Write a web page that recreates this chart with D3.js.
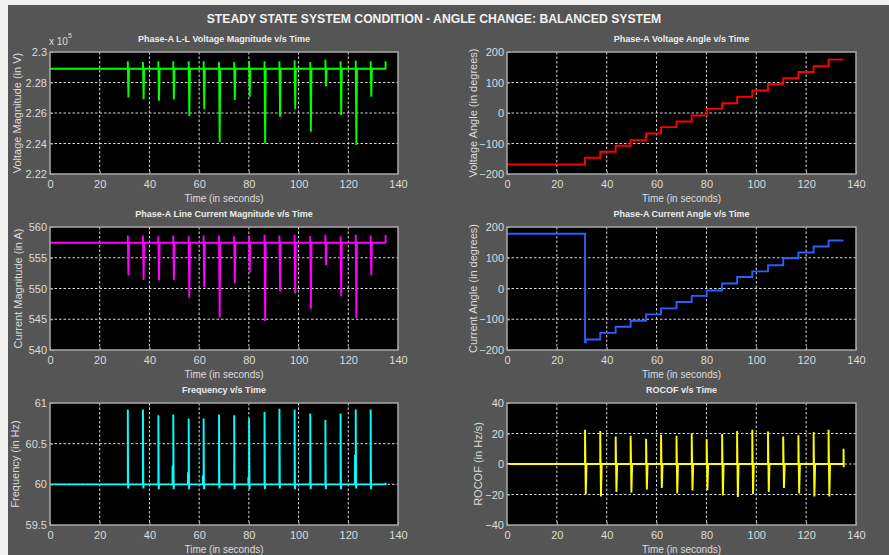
<!DOCTYPE html>
<html>
<head>
<meta charset="utf-8">
<script src="https://cdn.jsdelivr.net/npm/d3@7"></script>
<style>
  html, body { margin: 0; padding: 0; background: #f0f0f0; }
  svg { display: block; }
</style>
</head>
<body>
<svg id="chart" width="889" height="555"></svg>
<script>
// ---- data ----
// times (s) where the phase angle step is applied
const eventTimes = [31.3, 37.4, 43.6, 49.6, 55.8, 61.8, 68.0, 74.1, 80.1, 86.3, 92.3, 98.4, 104.7, 110.8, 116.9, 123.0, 129.0];
const endTime = 135;
const timeTicks = [0, 20, 40, 60, 80, 100, 120, 140];

// Phase-A L-L voltage magnitude (x 10^5 V)
const vmBase = 2.289;
const vmPeak = [2.294, 2.2935, 2.294, 2.294, 2.294, 2.294, 2.2935, 2.2935, 2.294, 2.294, 2.294, 2.2945, 2.2935, 2.295, 2.294, 2.2945, 2.294];
const vmDip = [2.2701, 2.269, 2.268, 2.2688, 2.2579, 2.2625, 2.2409, 2.2686, 2.2706, 2.2398, 2.2575, 2.2625, 2.2477, 2.2775, 2.2586, 2.239, 2.2706];
const vmEnd = 2.294;
const vmTicks = [2.22, 2.24, 2.26, 2.28, 2.3];

// Phase-A voltage angle (deg), level after each step
const vaLevels = [-168.4, -146.6, -127, -107.4, -88.8, -67, -46.3, -27.8, -8.2, 13.6, 32.2, 52.9, 73.6, 94.3, 114, 134.6, 153.2, 175];
const angleTicks = [-200, -100, 0, 100, 200];

// Phase-A line current magnitude (A)
const cmBase = 557.45;
const cmPeak = [558.6, 558.6, 558.5, 558.6, 558.5, 558.6, 558.6, 558.5, 558.6, 558.75, 558.6, 558.75, 558.5, 558.75, 558.5, 558.75, 558.6];
const cmDip = [552.1, 551.4, 551.3, 551.4, 548.5, 550.2, 545.3, 550.8, 552.6, 544.7, 549.5, 549.2, 546.7, 553.8, 548.7, 545.2, 552.1];
const cmEnd = 558.7;
const cmTicks = [540, 545, 550, 555, 560];

// Phase-A current angle (deg)
const caLevels = [178, -166, -144.3, -124.6, -104.9, -84.2, -64.5, -43.7, -24, -6.6, 16.4, 37.2, 55.7, 75.4, 98.4, 116.9, 136.6, 156.3];
const caFirstDip = -175;

// Frequency (Hz)
const fBase = 60;
const fPeak = [60.92, 60.92, 60.85, 60.86, 60.81, 60.81, 60.86, 60.85, 60.81, 60.89, 60.93, 60.92, 60.87, 60.79, 60.87, 60.92, 60.92];
const fDip = [59.95, 59.95, 59.94, 59.94, 59.94, 59.94, 59.95, 59.94, 59.94, 59.94, 59.95, 59.94, 59.94, 59.94, 59.94, 59.95, 59.94];
const fSecond = [null, null, null, 60.23, 60.15, 60.11, null, null, 60.09, null, null, null, null, null, null, 60.36, null];
const fEnd = 60.02;
const fTicks = [59.5, 60, 60.5, 61];

// ROCOF (Hz/s)
const rPeak = [22.4, 21.7, 18, 18.5, 16.5, 19.1, 18.5, 20.2, 16.3, 19.6, 21.7, 22.4, 21.3, 18, 18.9, 20.9, 22.4];
const rDip = [-20, -21.3, -18.3, -18.9, -16.7, -15.7, -19.3, -17.4, -17.2, -20.6, -21.7, -19.6, -18.3, -15.7, -19.3, -21.3, -21.3];
const rEnd = [10, -2.2];
const rTicks = [-40, -20, 0, 20, 40];

// ---- series builders ----
function spikeSeries(base, peaks, dips, dt) {
  const pts = [[0, base]];
  eventTimes.forEach((t, i) => {
    pts.push([t, base], [t, peaks[i]], [t + dt, dips[i]], [t + 2 * dt, base]);
  });
  pts.push([endTime, base]);
  return pts;
}

// points for d3.curveStepAfter
function stepSeries(levels) {
  const pts = [[0, levels[0]]];
  eventTimes.forEach((t, i) => pts.push([t, levels[i + 1]]));
  pts.push([endTime, levels[levels.length - 1]]);
  return pts;
}

const vmSeries = spikeSeries(vmBase, vmPeak, vmDip, 0.25).concat([[endTime, vmEnd]]);
const cmSeries = spikeSeries(cmBase, cmPeak, cmDip, 0.25).concat([[endTime, cmEnd]]);
const vaSeries = stepSeries(vaLevels);
const caSeries = stepSeries(caLevels);
// first current-angle drop overshoots a little before settling
caSeries.splice(1, 1, [eventTimes[0], caFirstDip], [eventTimes[0] + 0.3, caLevels[1]]);

const fSeries = [[0, fBase]];
eventTimes.forEach((t, i) => {
  if (fSecond[i] !== null) fSeries.push([t - 0.3, fBase], [t - 0.3, fSecond[i]], [t - 0.25, fBase]);
  fSeries.push([t, fBase], [t, fPeak[i]], [t + 0.15, fDip[i]], [t + 0.3, fBase]);
});
fSeries.push([endTime, fBase], [endTime, fEnd]);

const rSeries = spikeSeries(0, rPeak, rDip, 0.3).concat([[endTime, rEnd[0]], [endTime + 0.1, rEnd[1]]]);

// ---- layout ----
const W = 889, H = 555;
const svg = d3.select('#chart');
const txt = '#dcdcdc';
const tickFont = '"Liberation Sans Narrow", "Arial Narrow", sans-serif';
const labelFont = '"Liberation Sans", Arial, sans-serif';

svg.append('rect').attr('x', 8).attr('y', 5).attr('width', W - 8).attr('height', H - 5).attr('fill', '#555555');

svg.append('text')
  .attr('x', 434).attr('y', 23)
  .attr('text-anchor', 'middle')
  .attr('fill', '#f2f2f2')
  .style('font', `bold 12.2px ${labelFont}`)
  .text('STEADY STATE SYSTEM CONDITION - ANGLE CHANGE: BALANCED SYSTEM');

const cols = [[50, 398], [507, 856]];
const rows = [[52, 174], [227, 350], [403, 525]];

const panels = [
  { col: 0, row: 0, title: 'Phase-A L-L Voltage Magnitude v/s Time', ylabel: 'Voltage Magnitude (in V)', ylx: 17,
    domain: [2.22, 2.3], ticks: vmTicks, fmt: d => d === 2.3 ? '2.3' : d3.format('.2f')(d), data: vmSeries, color: '#00ff00', curve: d3.curveLinear },
  { col: 1, row: 0, title: 'Phase-A Voltage Angle v/s Time', ylabel: 'Voltage Angle (in degrees)', ylx: 473,
    domain: [-200, 200], ticks: angleTicks, fmt: d3.format('d'), data: vaSeries, color: '#ff0000', curve: d3.curveStepAfter },
  { col: 0, row: 1, title: 'Phase-A Line Current Magnitude v/s Time', ylabel: 'Current Magnitude (in A)', ylx: 18,
    domain: [540, 560], ticks: cmTicks, fmt: d3.format('d'), data: cmSeries, color: '#ff00ff', curve: d3.curveLinear },
  { col: 1, row: 1, title: 'Phase-A Current Angle v/s Time', ylabel: 'Current Angle (in degrees)', ylx: 473,
    domain: [-200, 200], ticks: angleTicks, fmt: d3.format('d'), data: caSeries, color: '#2d5cff', curve: d3.curveStepAfter },
  { col: 0, row: 2, title: 'Frequency v/s Time', ylabel: 'Frequency (in Hz)', ylx: 15,
    domain: [59.5, 61], ticks: fTicks, fmt: d => String(d), data: fSeries, color: '#00ffff', curve: d3.curveLinear },
  { col: 1, row: 2, title: 'ROCOF v/s Time', ylabel: 'ROCOF (in Hz/s)', ylx: 478,
    domain: [-40, 40], ticks: rTicks, fmt: d3.format('d'), data: rSeries, color: '#ffff00', curve: d3.curveLinear }
];

panels.forEach((p, idx) => {
  const [x0, x1] = cols[p.col];
  const [y0, y1] = rows[p.row];
  const x = d3.scaleLinear().domain([0, 140]).range([x0, x1]);
  const y = d3.scaleLinear().domain(p.domain).range([y1, y0]);
  const g = svg.append('g');

  g.append('rect').attr('x', x0).attr('y', y0).attr('width', x1 - x0).attr('height', y1 - y0).attr('fill', '#000');

  // grid
  g.append('g').selectAll('line').data(timeTicks.slice(1, -1)).join('line')
    .attr('x1', d => x(d)).attr('x2', d => x(d)).attr('y1', y0).attr('y2', y1)
    .attr('stroke', '#d8d8d8').attr('stroke-width', 1).attr('stroke-dasharray', '2.5,2');
  g.append('g').selectAll('line').data(p.ticks.slice(1, -1)).join('line')
    .attr('x1', x0).attr('x2', x1).attr('y1', d => y(d)).attr('y2', d => y(d))
    .attr('stroke', '#d8d8d8').attr('stroke-width', 1).attr('stroke-dasharray', '2.5,2');

  // series
  const clipId = 'clip' + idx;
  g.append('clipPath').attr('id', clipId).append('rect')
    .attr('x', x0).attr('y', y0 - 1).attr('width', x1 - x0).attr('height', y1 - y0 + 2);
  const line = d3.line().x(d => x(d[0])).y(d => y(d[1])).curve(p.curve);
  g.append('path').datum(p.data)
    .attr('clip-path', `url(#${clipId})`)
    .attr('d', line)
    .attr('fill', 'none')
    .attr('stroke', p.color)
    .attr('stroke-width', 1.9)
    .attr('stroke-linejoin', 'miter');

  // axes (ticks inside, matlab style)
  const xAxis = d3.axisBottom(x).tickValues(timeTicks).tickSizeInner(-3).tickSizeOuter(0).tickPadding(6);
  const yAxis = d3.axisLeft(y).tickValues(p.ticks).tickFormat(p.fmt).tickSizeInner(-3).tickSizeOuter(0).tickPadding(6);
  const ax = g.append('g').attr('transform', `translate(0,${y1})`).call(xAxis);
  const ay = g.append('g').attr('transform', `translate(${x0},0)`).call(yAxis);
  [ax, ay].forEach(a => {
    a.select('.domain').remove();
    a.selectAll('line').attr('stroke', '#b0b0b0');
    a.selectAll('text').attr('fill', txt).style('font', `11px ${tickFont}`);
  });
  ay.selectAll('text').attr('dx', 3);

  g.append('rect').attr('x', x0).attr('y', y0).attr('width', x1 - x0).attr('height', y1 - y0)
    .attr('fill', 'none').attr('stroke', '#a8a8a8').attr('stroke-width', 1.5);

  g.append('text')
    .attr('x', (x0 + x1) / 2).attr('y', y0 - 10)
    .attr('text-anchor', 'middle').attr('fill', '#ececec')
    .style('font', `bold 9px ${labelFont}`)
    .text(p.title);

  g.append('text')
    .attr('x', (x0 + x1) / 2).attr('y', y1 + 28)
    .attr('text-anchor', 'middle').attr('fill', txt)
    .style('font', `10px ${labelFont}`)
    .text('Time (in seconds)');

  g.append('text')
    .attr('transform', `translate(${p.ylx},${(y0 + y1) / 2}) rotate(-90)`)
    .attr('text-anchor', 'middle').attr('dy', '0.35em').attr('fill', txt)
    .style('font', `11px ${labelFont}`)
    .text(p.ylabel);
});

// exponent label of the voltage magnitude axis
const expo = svg.append('text').attr('x', 49).attr('y', 45).attr('fill', txt).style('font', `10px ${tickFont}`);
expo.append('tspan').text('x 10');
expo.append('tspan').attr('dy', -7).style('font-size', '7px').text('5');
</script>
</body>
</html>
